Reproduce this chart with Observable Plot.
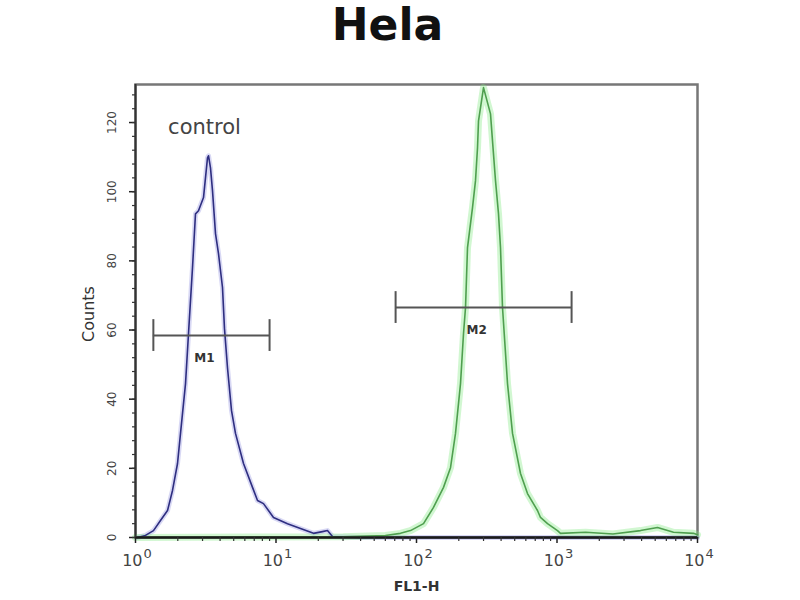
<!DOCTYPE html>
<html><head><meta charset="utf-8">
<script src="https://cdn.jsdelivr.net/npm/d3@7"></script>
<script src="https://cdn.jsdelivr.net/npm/@observablehq/plot@0.6"></script>
<style>body{margin:0;background:#fff;}</style>
</head><body><div id="chart"></div>
<script>
const title = "Hela";
const xLabel = "FL1-H";
const yLabel = "Counts";
const controlLabel = "control";
const xMajorTicks = [1, 10, 100, 1000, 10000];
const xTickBase = ["10", "10", "10", "10", "10"];
const xTickExp = ["0", "1", "2", "3", "4"];
const yMajorTicks = [0, 20, 40, 60, 80, 100, 120];
const yMinorTicks = d3.range(0, 132, 4);
const xMinorTicks = [1, 10, 100, 1000].flatMap(p => [2,3,4,5,6,7,8,9].map(k => k * p));

// control (blue) histogram: FL1-H value, count
const controlX = [1.033,1.178,1.343,1.506,1.690,1.834,1.991,2.091,2.270,2.384,2.463,2.545,2.673,2.808,3.048,3.254,3.308,3.418,3.532,3.710,3.897,4.161,4.299,4.516,4.824,5.149,5.871,6.804,7.385,8.147,9.598,12.07,14.94,18.49,21.42,23.25,25.24,40,10000];
const controlY = [0,0.6,2.0,4.9,7.8,13.6,21.4,30.1,44.5,59.0,68.5,78.0,93.6,94.5,98.3,109.8,110.4,106.9,100.3,87.9,82.1,72.3,60.4,49.1,36.7,30.1,21.4,14.5,10.7,9.8,5.8,4.0,2.6,1.2,1.7,2.0,0.3,0,0];

// sample (green) histogram
const sampleX = [1,30,60,76.9,90.6,112.2,132.1,155.7,174.6,189.5,205.7,216.1,223.3,230.7,250.4,263.0,271.8,276.3,299.9,336.3,347.5,365.0,383.4,396.2,409.4,444.4,482.4,549.9,616.6,726.3,762.9,855.9,1008,1059,1600,2500,3929,5192,6748,9366,10000];
const sampleY = [0,0.2,0.6,1.2,2.0,4.0,8.7,14.5,20.2,30.1,44.5,59.0,66.5,83.8,95.4,103.2,112.7,120.5,130.1,122.5,114.7,103.2,93.6,83.8,66.5,44.5,30.1,18.5,12.7,7.8,5.8,4.0,2.0,1.2,1.5,1.0,2.0,2.9,1.5,1.2,0.8];

// gates
const markerNames = ["M1", "M2"];
const markerStart = [1.34, 71];
const markerEnd = [9.0, 1270];
const markerLevel = [58.4, 66.5];

const control = controlX.map((x, i) => ({x, y: controlY[i]}));
const sample = sampleX.map((x, i) => ({x, y: sampleY[i]}));
const markers = markerNames.map((name, i) => ({name, start: markerStart[i], end: markerEnd[i], level: markerLevel[i]}));
const capHalf = 4.6;
const peak = control.reduce((a, b) => (b.y > a.y ? b : a));

const chart = Plot.plot({
  width: 800, height: 600,
  marginLeft: 135, marginRight: 103, marginTop: 84, marginBottom: 63,
  x: {type: "log", domain: [1, 10000]},
  y: {domain: [0, 131]},
  style: {fontFamily: "DejaVu Sans, sans-serif", background: "white", overflow: "visible"},
  marks: [
    Plot.frame({stroke: "#777", strokeWidth: 2.5}),
    Plot.line(control, {x: "x", y: "y", stroke: "#a9a9e6", strokeWidth: 5, strokeOpacity: 0.45}),
    Plot.line(sample, {x: "x", y: "y", stroke: "#7ae87a", strokeWidth: 7, strokeOpacity: 0.35}),
    Plot.line(control, {x: "x", y: "y", stroke: "#2e2e80", strokeWidth: 1.6}),
    Plot.line(sample, {x: "x", y: "y", stroke: "#4f9f4f", strokeWidth: 1.6}),
    Plot.ruleY(markers, {x1: "start", x2: "end", y: "level", stroke: "#555", strokeWidth: 2}),
    Plot.ruleX(markers, {x: "start", y1: d => d.level - capHalf, y2: d => d.level + capHalf, stroke: "#555", strokeWidth: 2}),
    Plot.ruleX(markers, {x: "end", y1: d => d.level - capHalf, y2: d => d.level + capHalf, stroke: "#555", strokeWidth: 2}),
    Plot.text(markers, {x: d => Math.sqrt(d.start * d.end), y: "level", dx: -7, dy: 23, text: "name", fontSize: 12, fontWeight: "bold", fill: "#333"}),
    Plot.text([controlLabel], {x: () => peak.x, y: () => peak.y, dx: -4, dy: -28, text: d => d, fontSize: 21, fill: "#444"}),
    Plot.ruleY([0], {stroke: "#1a1a1a", strokeWidth: 2.5}),
    Plot.ruleX([1], {stroke: "#333", strokeWidth: 2}),
    Plot.axisX({ticks: xMajorTicks, tickSize: 6, fill: "none", label: null, stroke: "#222", strokeWidth: 1.5}),
    Plot.axisX({ticks: xMinorTicks, tickSize: 4, fill: "none", label: null, stroke: "#333", strokeWidth: 1.2}),
    Plot.axisY({ticks: yMajorTicks, tickSize: 6, fill: "none", label: null, stroke: "#222", strokeWidth: 1.5}),
    Plot.axisY({ticks: yMinorTicks, tickSize: 3, fill: "none", label: null, stroke: "#333", strokeWidth: 1.2}),
    Plot.text(xMajorTicks, {x: d => d, frameAnchor: "bottom", lineAnchor: "bottom", dx: 7, dy: 28, text: (d, i) => xTickBase[i], textAnchor: "end", fontSize: 16, fill: "#444"}),
    Plot.text(xMajorTicks, {x: d => d, frameAnchor: "bottom", lineAnchor: "bottom", dx: 8, dy: 20, text: (d, i) => xTickExp[i], textAnchor: "start", fontSize: 13, fill: "#444"}),
    Plot.text(yMajorTicks, {y: d => d, frameAnchor: "left", dx: -23, rotate: -90, textAnchor: "middle", lineAnchor: "middle", text: d => String(d), fontSize: 12, fill: "#444"}),
    Plot.text([yLabel], {frameAnchor: "left", dx: -47, dy: 3, rotate: -90, textAnchor: "middle", lineAnchor: "middle", text: d => d, fontSize: 16, fill: "#333"}),
    Plot.text([xLabel], {frameAnchor: "bottom", lineAnchor: "bottom", dy: 53, text: d => d, fontSize: 14, fontWeight: "bold", fill: "#333"}),
    Plot.text([title], {frameAnchor: "top", lineAnchor: "top", dx: -29, dy: -76, text: d => d, fontSize: 44, fontWeight: "bold", fill: "#111"})
  ]
});
document.getElementById("chart").appendChild(chart);
</script>
</body></html>
